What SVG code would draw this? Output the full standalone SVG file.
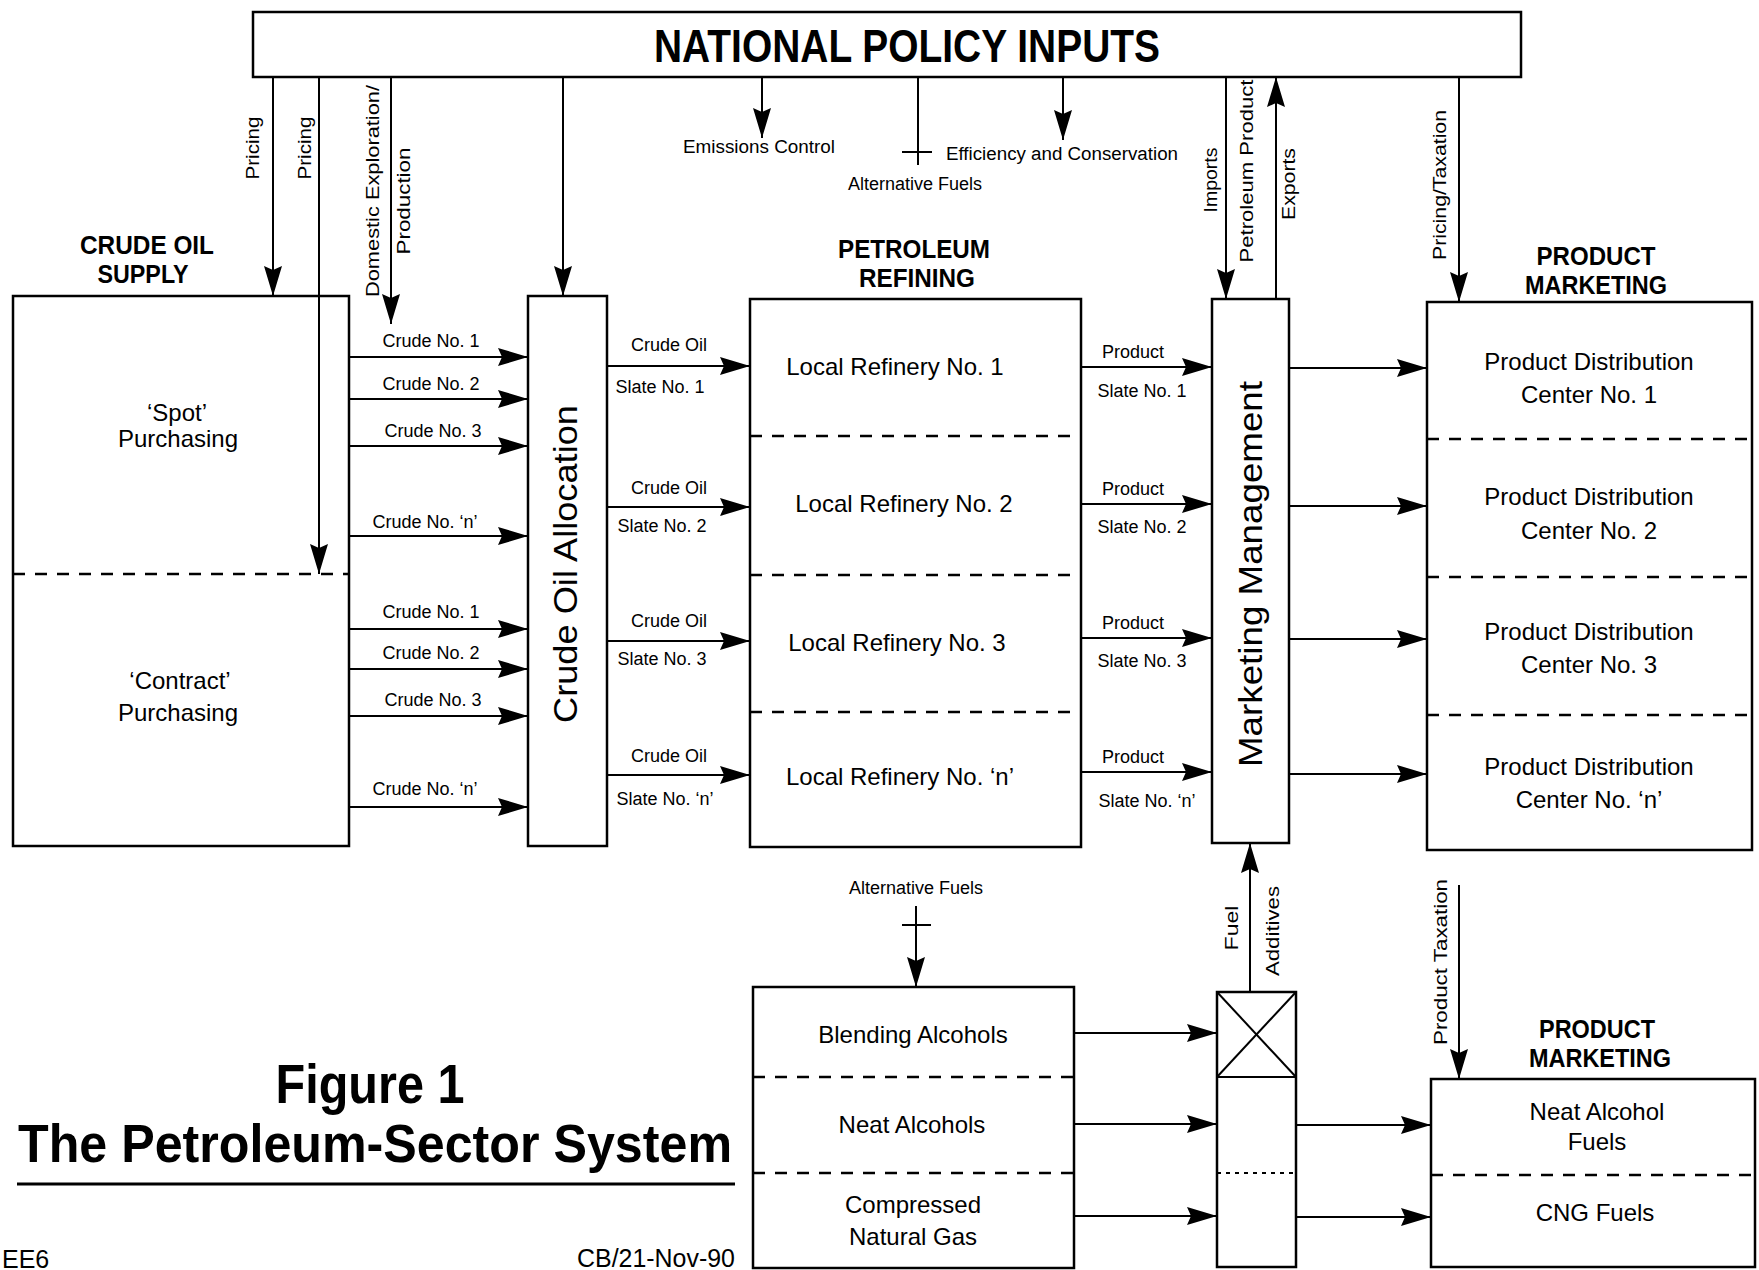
<svg xmlns="http://www.w3.org/2000/svg" width="1759" height="1270" viewBox="0 0 1759 1270">
<style>
text{font-family:"Liberation Sans",Arial,sans-serif;fill:#000}
.box{fill:#fff;stroke:#000;stroke-width:2.5}
.dv{stroke:#000;stroke-width:2.5;stroke-dasharray:12 10;fill:none}
.ln{stroke:#000;stroke-width:2;fill:none}
.ar{stroke:#000;stroke-width:2;fill:none;marker-end:url(#ah)}
.hd{font-weight:bold;font-size:26px;text-anchor:middle}
.lb{font-size:24px;text-anchor:middle}
.sm{font-size:18px;text-anchor:middle}
.rt{font-size:19px;text-anchor:middle}
.big{font-size:34px;text-anchor:middle}
</style>
<defs>
<marker id="ah" markerUnits="userSpaceOnUse" markerWidth="31" markerHeight="18" viewBox="0 0 31 18" refX="30" refY="9" orient="auto">
<path d="M0,0 L30,9 L0,18 L4,9 Z" fill="#000"/>
</marker>
</defs>

<g id="national-policy">
<rect class="box" x="253" y="12" width="1268" height="65"/>
<text x="907" y="62" font-size="46" font-weight="bold" text-anchor="middle" textLength="506" lengthAdjust="spacingAndGlyphs">NATIONAL POLICY INPUTS</text>
</g>

<g id="crude-oil-supply">
<text class="hd" x="147" y="254" textLength="134" lengthAdjust="spacingAndGlyphs">CRUDE OIL</text>
<text class="hd" x="143" y="283" textLength="91" lengthAdjust="spacingAndGlyphs">SUPPLY</text>
<rect class="box" x="13" y="296" width="336" height="550"/>
<line class="dv" x1="13" y1="574" x2="349" y2="574"/>
<text class="lb" x="177" y="421">‘Spot’</text>
<text class="lb" x="178" y="447">Purchasing</text>
<text class="lb" x="180" y="689">‘Contract’</text>
<text class="lb" x="178" y="721">Purchasing</text>
</g>

<g id="crude-oil-allocation">
<rect class="box" x="528" y="296" width="79" height="550"/>
<text class="big" transform="translate(577,564) rotate(-90)" textLength="318" lengthAdjust="spacingAndGlyphs">Crude Oil Allocation</text>
</g>

<g id="petroleum-refining">
<text class="hd" x="914" y="258" textLength="152" lengthAdjust="spacingAndGlyphs">PETROLEUM</text>
<text class="hd" x="917" y="287" textLength="116" lengthAdjust="spacingAndGlyphs">REFINING</text>
<rect class="box" x="750" y="299" width="331" height="548"/>
<line class="dv" x1="750" y1="436" x2="1081" y2="436"/>
<line class="dv" x1="750" y1="575" x2="1081" y2="575"/>
<line class="dv" x1="750" y1="712" x2="1081" y2="712"/>
<text class="lb" x="895" y="375">Local Refinery No. 1</text>
<text class="lb" x="904" y="512">Local Refinery No. 2</text>
<text class="lb" x="897" y="651">Local Refinery No. 3</text>
<text class="lb" x="900" y="785">Local Refinery No. ‘n’</text>
</g>

<g id="marketing-management">
<rect class="box" x="1212" y="299" width="77" height="544"/>
<text class="big" transform="translate(1262,574) rotate(-90)" textLength="386" lengthAdjust="spacingAndGlyphs">Marketing Management</text>
</g>

<g id="product-marketing">
<text class="hd" x="1596" y="265" textLength="119" lengthAdjust="spacingAndGlyphs">PRODUCT</text>
<text class="hd" x="1596" y="294" textLength="142" lengthAdjust="spacingAndGlyphs">MARKETING</text>
<rect class="box" x="1427" y="302" width="325" height="548"/>
<line class="dv" x1="1427" y1="439" x2="1752" y2="439"/>
<line class="dv" x1="1427" y1="577" x2="1752" y2="577"/>
<line class="dv" x1="1427" y1="715" x2="1752" y2="715"/>
<text class="lb" x="1589" y="370">Product Distribution</text>
<text class="lb" x="1589" y="403">Center No. 1</text>
<text class="lb" x="1589" y="505">Product Distribution</text>
<text class="lb" x="1589" y="539">Center No. 2</text>
<text class="lb" x="1589" y="640">Product Distribution</text>
<text class="lb" x="1589" y="673">Center No. 3</text>
<text class="lb" x="1589" y="775">Product Distribution</text>
<text class="lb" x="1589" y="808">Center No. ‘n’</text>
</g>

<g id="alternative-fuels">
<rect class="box" x="753" y="987" width="321" height="281"/>
<line class="dv" x1="753" y1="1077" x2="1074" y2="1077"/>
<line class="dv" x1="753" y1="1173" x2="1074" y2="1173"/>
<text class="lb" x="913" y="1043">Blending Alcohols</text>
<text class="lb" x="912" y="1133">Neat Alcohols</text>
<text class="lb" x="913" y="1213">Compressed</text>
<text class="lb" x="913" y="1245">Natural Gas</text>
</g>

<g id="fuel-additives">
<rect class="box" x="1217" y="992" width="79" height="275"/>
<line class="ln" x1="1217" y1="1077" x2="1296" y2="1077" stroke-width="2.5"/>
<line class="ln" x1="1217" y1="992" x2="1296" y2="1077"/>
<line class="ln" x1="1296" y1="992" x2="1217" y2="1077"/>
<line class="ln" x1="1217" y1="1173" x2="1296" y2="1173" stroke-dasharray="4 5"/>
</g>

<g id="product-marketing-alt">
<text class="hd" x="1597" y="1038" textLength="116" lengthAdjust="spacingAndGlyphs">PRODUCT</text>
<text class="hd" x="1600" y="1067" textLength="142" lengthAdjust="spacingAndGlyphs">MARKETING</text>
<rect class="box" x="1431" y="1079" width="324" height="188"/>
<line class="dv" x1="1431" y1="1175" x2="1755" y2="1175"/>
<text class="lb" x="1597" y="1120">Neat Alcohol</text>
<text class="lb" x="1597" y="1150">Fuels</text>
<text class="lb" x="1595" y="1221">CNG Fuels</text>
</g>

<g id="title">
<text x="370" y="1103" font-size="56" font-weight="bold" text-anchor="middle" textLength="189" lengthAdjust="spacingAndGlyphs">Figure 1</text>
<text x="375" y="1162" font-size="54" font-weight="bold" text-anchor="middle" textLength="714" lengthAdjust="spacingAndGlyphs">The Petroleum-Sector System</text>
<line x1="17" y1="1184" x2="735" y2="1184" stroke="#000" stroke-width="3"/>
<text x="2" y="1268" font-size="25">EE6</text>
<text x="656" y="1267" font-size="25" text-anchor="middle" textLength="158" lengthAdjust="spacingAndGlyphs">CB/21-Nov-90</text>
</g>

<g id="connectors">
<!-- policy inputs -->
<line class="ar" x1="273" y1="77" x2="273" y2="296"/>
<line class="ar" x1="319" y1="77" x2="319" y2="574"/>
<line class="ar" x1="391" y1="77" x2="391" y2="324"/>
<line class="ar" x1="563" y1="77" x2="563" y2="296"/>
<line class="ar" x1="762" y1="77" x2="762" y2="138"/>
<line class="ln" x1="918" y1="77" x2="918" y2="165"/>
<line class="ln" x1="902" y1="152" x2="932" y2="152"/>
<line class="ar" x1="1063" y1="77" x2="1063" y2="140"/>
<line class="ar" x1="1226" y1="77" x2="1226" y2="299"/>
<line class="ar" x1="1276" y1="299" x2="1276" y2="77"/>
<line class="ar" x1="1459" y1="77" x2="1459" y2="302"/>
<text class="rt" transform="translate(259,148) rotate(-90)" textLength="63" lengthAdjust="spacingAndGlyphs">Pricing</text>
<text class="rt" transform="translate(311,148) rotate(-90)" textLength="63" lengthAdjust="spacingAndGlyphs">Pricing</text>
<text class="rt" transform="translate(379,191) rotate(-90)" textLength="212" lengthAdjust="spacingAndGlyphs">Domestic Exploration/</text>
<text class="rt" transform="translate(410,201) rotate(-90)" textLength="107" lengthAdjust="spacingAndGlyphs">Production</text>
<text class="sm" x="759" y="153" font-size="19" textLength="152" lengthAdjust="spacingAndGlyphs">Emissions Control</text>
<text class="sm" x="915" y="190" textLength="134" lengthAdjust="spacingAndGlyphs">Alternative Fuels</text>
<text class="sm" x="1062" y="160" textLength="232" lengthAdjust="spacingAndGlyphs">Efficiency and Conservation</text>
<text class="rt" transform="translate(1217,180) rotate(-90)" textLength="65" lengthAdjust="spacingAndGlyphs">Imports</text>
<text class="rt" transform="translate(1253,171) rotate(-90)" textLength="183" lengthAdjust="spacingAndGlyphs">Petroleum Product</text>
<text class="rt" transform="translate(1295,184) rotate(-90)" textLength="72" lengthAdjust="spacingAndGlyphs">Exports</text>
<text class="rt" transform="translate(1446,185) rotate(-90)" textLength="150" lengthAdjust="spacingAndGlyphs">Pricing/Taxation</text>

<!-- crude supply to allocation -->
<line class="ar" x1="349" y1="357" x2="528" y2="357"/>
<line class="ar" x1="349" y1="399" x2="528" y2="399"/>
<line class="ar" x1="349" y1="446" x2="528" y2="446"/>
<line class="ar" x1="349" y1="536" x2="528" y2="536"/>
<line class="ar" x1="349" y1="629" x2="528" y2="629"/>
<line class="ar" x1="349" y1="669" x2="528" y2="669"/>
<line class="ar" x1="349" y1="716" x2="528" y2="716"/>
<line class="ar" x1="349" y1="807" x2="528" y2="807"/>
<text class="sm" x="431" y="347">Crude No. 1</text>
<text class="sm" x="431" y="390">Crude No. 2</text>
<text class="sm" x="433" y="437">Crude No. 3</text>
<text class="sm" x="425" y="528">Crude No. ‘n’</text>
<text class="sm" x="431" y="618">Crude No. 1</text>
<text class="sm" x="431" y="659">Crude No. 2</text>
<text class="sm" x="433" y="706">Crude No. 3</text>
<text class="sm" x="425" y="795">Crude No. ‘n’</text>

<!-- allocation to refineries -->
<line class="ar" x1="607" y1="366" x2="750" y2="366"/>
<line class="ar" x1="607" y1="507" x2="750" y2="507"/>
<line class="ar" x1="607" y1="641" x2="750" y2="641"/>
<line class="ar" x1="607" y1="775" x2="750" y2="775"/>
<text class="sm" x="669" y="351">Crude Oil</text>
<text class="sm" x="660" y="393">Slate No. 1</text>
<text class="sm" x="669" y="494">Crude Oil</text>
<text class="sm" x="662" y="532">Slate No. 2</text>
<text class="sm" x="669" y="627">Crude Oil</text>
<text class="sm" x="662" y="665">Slate No. 3</text>
<text class="sm" x="669" y="762">Crude Oil</text>
<text class="sm" x="665" y="805">Slate No. ‘n’</text>

<!-- refineries to marketing management -->
<line class="ar" x1="1081" y1="367" x2="1212" y2="367"/>
<line class="ar" x1="1081" y1="504" x2="1212" y2="504"/>
<line class="ar" x1="1081" y1="638" x2="1212" y2="638"/>
<line class="ar" x1="1081" y1="772" x2="1212" y2="772"/>
<text class="sm" x="1133" y="358">Product</text>
<text class="sm" x="1142" y="397">Slate No. 1</text>
<text class="sm" x="1133" y="495">Product</text>
<text class="sm" x="1142" y="533">Slate No. 2</text>
<text class="sm" x="1133" y="629">Product</text>
<text class="sm" x="1142" y="667">Slate No. 3</text>
<text class="sm" x="1133" y="763">Product</text>
<text class="sm" x="1147" y="807">Slate No. ‘n’</text>

<!-- marketing management to distribution -->
<line class="ar" x1="1289" y1="368" x2="1427" y2="368"/>
<line class="ar" x1="1289" y1="506" x2="1427" y2="506"/>
<line class="ar" x1="1289" y1="639" x2="1427" y2="639"/>
<line class="ar" x1="1289" y1="774" x2="1427" y2="774"/>

<!-- bottom section -->
<text class="sm" x="916" y="894" textLength="134" lengthAdjust="spacingAndGlyphs">Alternative Fuels</text>
<line class="ar" x1="916" y1="906" x2="916" y2="987"/>
<line class="ln" x1="902" y1="925" x2="931" y2="925"/>
<line class="ar" x1="1074" y1="1033" x2="1217" y2="1033"/>
<line class="ar" x1="1074" y1="1124" x2="1217" y2="1124"/>
<line class="ar" x1="1074" y1="1216" x2="1217" y2="1216"/>
<line class="ar" x1="1250" y1="992" x2="1250" y2="843"/>
<text class="rt" transform="translate(1238,928) rotate(-90)" textLength="45" lengthAdjust="spacingAndGlyphs">Fuel</text>
<text class="rt" transform="translate(1279,931) rotate(-90)" textLength="90" lengthAdjust="spacingAndGlyphs">Additives</text>
<line class="ar" x1="1296" y1="1125" x2="1431" y2="1125"/>
<line class="ar" x1="1296" y1="1217" x2="1431" y2="1217"/>
<line class="ar" x1="1459" y1="885" x2="1459" y2="1079"/>
<text class="rt" transform="translate(1447,962) rotate(-90)" textLength="166" lengthAdjust="spacingAndGlyphs">Product Taxation</text>
</g>
</svg>
